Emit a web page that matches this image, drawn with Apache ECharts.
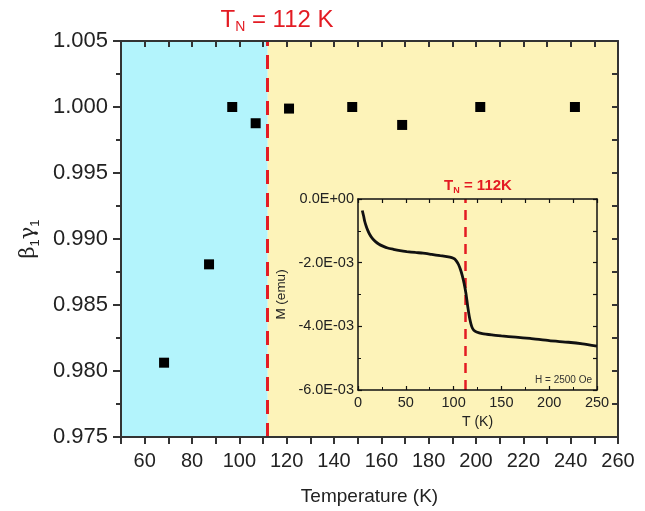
<!DOCTYPE html>
<html><head><meta charset="utf-8">
<script src="https://cdn.jsdelivr.net/npm/echarts@6/dist/echarts.min.js"></script>
<style>html,body{margin:0;padding:0;background:#fff}#c{width:645px;height:511px}</style>
</head><body><div id="c"></div>
<script>
// Main chart data
const temperature = [68.2, 87.2, 97.0, 106.9, 121.0, 147.7, 168.8, 201.8, 241.8];
const beta1gamma1 = [0.98063, 0.98808, 1.0000, 0.99877, 0.99988, 1.0000, 0.99864, 1.0000, 1.0000];
const TN = 112;
// Inset M(T) data (emu)
const insetT = [4.5, 6, 7, 8.5, 10, 12, 15, 18, 22, 26, 31, 37, 44, 51, 60, 68, 77, 86, 93, 98, 101, 103, 105, 107, 109, 111, 113, 115, 117, 119, 121, 124, 130, 140, 150, 165, 180, 200, 220, 235, 250];
const insetM = [-0.36e-3, -0.55e-3, -0.70e-3, -0.85e-3, -0.97e-3, -1.10e-3, -1.24e-3, -1.33e-3, -1.42e-3, -1.48e-3, -1.54e-3, -1.58e-3, -1.62e-3, -1.65e-3, -1.68e-3, -1.70e-3, -1.74e-3, -1.78e-3, -1.81e-3, -1.84e-3, -1.88e-3, -1.95e-3, -2.05e-3, -2.20e-3, -2.40e-3, -2.65e-3, -2.98e-3, -3.42e-3, -3.78e-3, -4.01e-3, -4.12e-3, -4.18e-3, -4.23e-3, -4.27e-3, -4.30e-3, -4.34e-3, -4.38e-3, -4.45e-3, -4.50e-3, -4.55e-3, -4.62e-3];

const FONT = 'Liberation Sans, Arial, sans-serif';
const AX = '#333';
const RED = '#e31b23';

const chart = echarts.init(document.getElementById('c'), null, {renderer: 'canvas'});

const mainData = temperature.map((t, i) => [t, beta1gamma1[i]]);
const insetData = insetT.map((t, i) => [t, insetM[i]]);

function sciLabel(v) {
  if (Math.abs(v) < 1e-12) return '0.0E+00';
  return (v * 1000).toFixed(1) + 'E-03';
}

const option = {
  animation: false,
  textStyle: {fontFamily: FONT},
  grid: [
    {left: 121, top: 41, width: 497, height: 396, containLabel: false},
    {left: 358, top: 199, width: 239, height: 191, containLabel: false}
  ],
  xAxis: [
    {
      gridIndex: 0, type: 'value', min: 50, max: 260, interval: 10, position: 'bottom', z: 10,
      name: 'Temperature (K)', nameLocation: 'middle', nameGap: 50,
      nameTextStyle: {fontSize: 19, color: '#222', fontFamily: FONT},
      axisLine: {onZero: false, lineStyle: {color: AX, width: 2}},
      axisTick: {inside: false, length: 7, lineStyle: {color: AX, width: 2}},
      axisLabel: {margin: 14, fontSize: 20, color: '#222', fontFamily: FONT,
        formatter: v => (Math.round(v) % 20 === 0 ? String(Math.round(v)) : '')},
      splitLine: {show: false}
    },
    {
      gridIndex: 0, type: 'value', min: 50, max: 260, interval: 10, position: 'top', z: 10,
      axisLine: {onZero: false, lineStyle: {color: AX, width: 2}},
      axisTick: {inside: true, length: 6, lineStyle: {color: AX, width: 2}},
      axisLabel: {show: false}, splitLine: {show: false}
    },
    {
      gridIndex: 1, type: 'value', min: 0, max: 250, interval: 50, position: 'bottom', z: 10,
      name: 'T (K)', nameLocation: 'middle', nameGap: 25,
      nameTextStyle: {fontSize: 14, color: '#222', fontFamily: FONT},
      axisLine: {onZero: false, lineStyle: {color: '#111', width: 1.5}},
      axisTick: {inside: true, length: 4, lineStyle: {color: '#111', width: 1.2}},
      minorTick: {show: true, splitNumber: 2, length: 3, lineStyle: {color: '#111', width: 1}},
      axisLabel: {margin: 5, fontSize: 14.5, color: '#222', fontFamily: FONT},
      splitLine: {show: false}
    },
    {
      gridIndex: 1, type: 'value', min: 0, max: 250, interval: 25, position: 'top', z: 10,
      axisLine: {onZero: false, lineStyle: {color: '#111', width: 1.5}},
      axisTick: {inside: true, length: 4, lineStyle: {color: '#111', width: 1.2}},
      axisLabel: {show: false}, splitLine: {show: false}
    }
  ],
  yAxis: [
    {
      gridIndex: 0, type: 'value', min: 0.975, max: 1.005, interval: 0.005, position: 'left', z: 10,
      name: '{g|β}{s|1}{g|γ}{s|1}', nameLocation: 'middle', nameGap: 79, nameRotate: 90,
      nameTextStyle: {rich: {
        g: {fontSize: 21, color: '#222', fontFamily: 'DejaVu Serif, serif', lineHeight: 26},
        s: {fontSize: 13, color: '#222', fontFamily: FONT, verticalAlign: 'bottom', lineHeight: 14}
      }},
      axisLine: {onZero: false, lineStyle: {color: AX, width: 2}},
      axisTick: {inside: false, length: 8, lineStyle: {color: AX, width: 2}},
      minorTick: {show: true, splitNumber: 2, length: 5, lineStyle: {color: AX, width: 2}},
      axisLabel: {margin: 13, fontSize: 22, color: '#222', fontFamily: FONT,
        formatter: v => v.toFixed(3)},
      splitLine: {show: false}, minorSplitLine: {show: false}
    },
    {
      gridIndex: 0, type: 'value', min: 0.975, max: 1.005, interval: 0.0025, position: 'right', z: 10,
      axisLine: {onZero: false, lineStyle: {color: AX, width: 2}},
      axisTick: {inside: true, length: 6, lineStyle: {color: AX, width: 2}},
      axisLabel: {show: false}, splitLine: {show: false}
    },
    {
      gridIndex: 1, type: 'value', min: -0.006, max: 0, interval: 0.002, position: 'left', z: 10,
      name: 'M (emu)', nameLocation: 'middle', nameGap: 70, nameRotate: 90,
      nameTextStyle: {fontSize: 13.5, color: '#222', fontFamily: FONT},
      axisLine: {onZero: false, lineStyle: {color: '#111', width: 1.5}},
      axisTick: {inside: true, length: 4, lineStyle: {color: '#111', width: 1.2}},
      minorTick: {show: true, splitNumber: 2, length: 3, lineStyle: {color: '#111', width: 1}},
      axisLabel: {margin: 4, fontSize: 14.5, color: '#222', fontFamily: FONT, formatter: sciLabel},
      splitLine: {show: false}
    },
    {
      gridIndex: 1, type: 'value', min: -0.006, max: 0, interval: 0.001, position: 'right', z: 10,
      axisLine: {onZero: false, lineStyle: {color: '#111', width: 1.5}},
      axisTick: {inside: true, length: 4, lineStyle: {color: '#111', width: 1.2}},
      axisLabel: {show: false}, splitLine: {show: false}
    }
  ],
  series: [
    {
      type: 'scatter', xAxisIndex: 0, yAxisIndex: 0, z: 5,
      data: mainData, symbol: 'rect', symbolSize: 10,
      itemStyle: {color: '#000', opacity: 1},
      markArea: {
        silent: true,
        data: [
          [{xAxis: 50, itemStyle: {color: '#b3f4fc', opacity: 1}}, {xAxis: TN}],
          [{xAxis: TN, itemStyle: {color: '#fdf3b9', opacity: 1}}, {xAxis: 260}]
        ]
      },
      markLine: {
        silent: true, symbol: 'none', label: {show: false},
        lineStyle: {color: RED, width: 3, type: [14, 9], opacity: 1},
        data: [{xAxis: TN}]
      }
    },
    {
      type: 'line', xAxisIndex: 2, yAxisIndex: 2, z: 6,
      data: insetData, showSymbol: false, smooth: 0.2,
      lineStyle: {color: '#111', width: 2.8},
      markLine: {
        silent: true, symbol: 'none', label: {show: false},
        lineStyle: {color: RED, width: 2.5, type: [10, 7], opacity: 1},
        data: [{xAxis: TN}]
      }
    }
  ],
  graphic: [
    {
      type: 'text', x: 277, y: 20, z: 10,
      style: {
        text: '{a|T}{b|N}{a| = 112 K}', align: 'center', verticalAlign: 'middle',
        rich: {
          a: {fontSize: 24, fill: RED, fontFamily: FONT, lineHeight: 28},
          b: {fontSize: 14, fill: RED, fontFamily: FONT, verticalAlign: 'bottom', lineHeight: 11}
        }
      }
    },
    {
      type: 'text', x: 478, y: 186, z: 10,
      style: {
        text: '{a|T}{b|N}{a| = 112K}', align: 'center', verticalAlign: 'middle',
        rich: {
          a: {fontSize: 15, fill: RED, fontFamily: FONT, fontWeight: 'bold', lineHeight: 18},
          b: {fontSize: 9, fill: RED, fontFamily: FONT, fontWeight: 'bold', verticalAlign: 'bottom', lineHeight: 7}
        }
      }
    },
    {
      type: 'text', x: 592, y: 380, z: 10,
      style: {text: 'H = 2500 Oe', align: 'right', verticalAlign: 'middle',
        fontSize: 10, fill: '#333', fontFamily: FONT}
    }
  ]
};
chart.setOption(option);
</script></body></html>
